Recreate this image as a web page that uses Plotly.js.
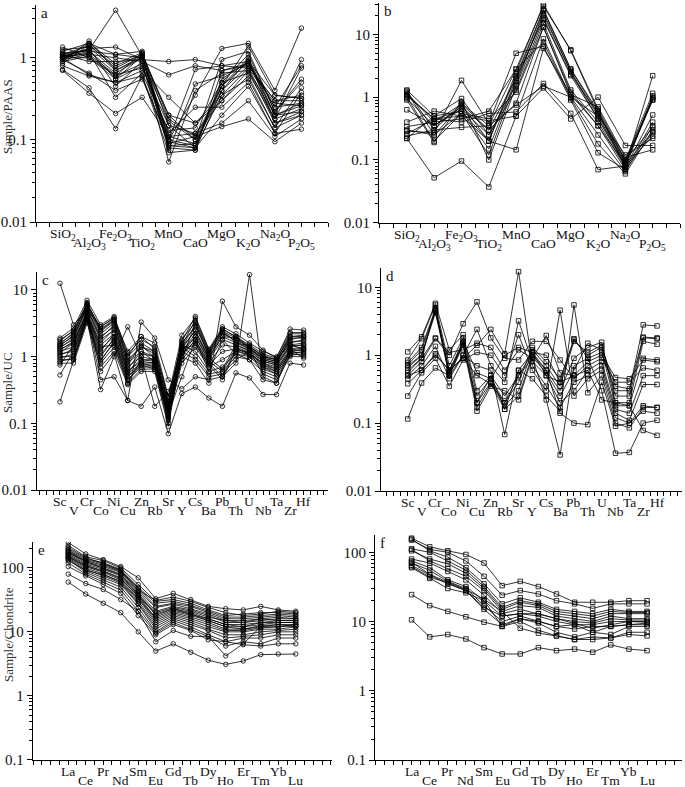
<!DOCTYPE html>
<html>
<head>
<meta charset="utf-8">
<script src="https://cdn.plot.ly/plotly-3.0.1.min.js"></script>
<style>body{margin:0;background:#fff}</style>
</head>
<body>
<div id="chart" style="width:685px;height:787px"></div>
<script>
// x categories
var oxides = ['SiO<sub>2</sub>','Al<sub>2</sub>O<sub>3</sub>','Fe<sub>2</sub>O<sub>3</sub>','TiO<sub>2</sub>','MnO','CaO','MgO','K<sub>2</sub>O','Na<sub>2</sub>O','P<sub>2</sub>O<sub>5</sub>'];
var traceEl = ['Sc','V','Cr','Co','Ni','Cu','Zn','Rb','Sr','Y','Cs','Ba','Pb','Th','U','Nb','Ta','Zr','Hf'];
var rees = ['La','Ce','Pr','Nd','Sm','Eu','Gd','Tb','Dy','Ho','Er','Tm','Yb','Lu'];

// a: major oxides / PAAS (circles)
var oxA = [
  [1.05,1.25,3.8,1.05,0.2,0.1,0.45,0.9,0.2,0.28],
  [1.0,1.3,1.35,0.95,0.9,0.95,0.8,0.9,0.35,0.32],
  [0.95,1.1,1.0,0.9,0.62,0.8,0.7,0.8,0.3,0.35],
  [1.35,1.0,0.6,1.15,0.15,0.08,0.35,0.75,0.18,0.24],
  [1.2,1.5,1.1,1.2,0.1,0.085,0.45,1.0,0.2,0.26],
  [1.1,1.4,0.8,1.1,0.085,0.09,0.5,1.1,0.22,0.5],
  [0.9,1.6,0.7,1.05,0.08,0.075,0.4,0.95,0.16,0.22],
  [0.8,0.6,0.5,0.7,0.33,0.16,0.3,0.6,0.14,0.2],
  [0.7,0.37,0.21,0.33,0.11,0.12,0.16,0.3,0.11,0.18],
  [0.72,0.43,0.137,0.6,0.09,0.11,0.145,0.18,0.095,0.16],
  [1.0,1.0,0.55,0.8,0.12,0.25,0.25,0.5,0.12,0.135],
  [1.15,1.2,0.65,1.0,0.075,0.48,0.6,0.85,0.25,0.8],
  [1.05,1.3,0.45,0.9,0.054,0.4,0.65,0.7,0.2,0.95],
  [0.95,0.65,0.4,0.55,0.1,0.35,1.3,1.5,0.4,2.3],
  [1.0,1.15,0.33,0.65,0.13,0.14,0.5,0.65,0.18,0.75],
  [1.1,0.9,0.9,0.95,0.17,0.1,0.95,1.2,0.22,0.55],
  [0.85,1.45,0.75,1.1,0.2,0.16,0.35,0.55,0.14,0.43],
  [1.0,1.2,1.1,1.0,0.095,0.08,0.2,0.45,0.12,0.38],
  [1.25,1.35,0.7,1.0,0.11,0.09,0.4,0.8,0.3,0.3],
  [0.9,1.05,0.6,0.85,0.085,0.08,0.55,0.9,0.25,0.28],
  [1.0,0.62,0.5,0.6,0.07,0.075,0.7,0.85,0.2,0.22],
  [1.05,1.1,0.62,0.75,0.15,0.12,0.3,0.7,0.16,0.2],
  [0.95,1.5,0.85,1.15,0.18,0.11,0.45,1.4,0.35,0.32],
  [1.1,1.25,0.55,1.05,0.1,0.72,0.8,0.75,0.28,0.26]
];

// b: major oxides / PAAS (squares)
var oxB = [
  [1.25,0.3,0.8,0.35,2.8,28,5.7,0.65,0.1,1.15],
  [1.2,0.25,0.75,0.2,2.5,30,5.5,0.6,0.095,1.0],
  [1.1,0.45,0.6,0.15,2.0,24,2.8,0.55,0.09,0.95],
  [1.0,0.2,0.55,0.12,1.8,20,2.6,0.5,0.085,0.9],
  [0.9,0.19,0.85,0.1,1.5,17,2.2,0.45,0.08,2.2],
  [1.3,0.5,0.95,0.25,1.3,15,1.3,0.4,0.075,0.52],
  [0.63,0.35,0.7,0.3,0.8,13,1.1,0.35,0.07,0.4],
  [0.4,0.6,0.5,0.42,0.5,8.5,1.0,0.25,0.065,0.35],
  [0.34,0.4,0.45,0.6,2.8,7.5,0.95,0.18,0.06,0.3],
  [0.29,0.27,1.85,0.38,5.0,6.5,0.9,0.13,0.07,0.27],
  [0.26,0.45,0.4,0.55,0.58,1.65,0.55,0.07,0.08,0.24],
  [0.24,0.3,0.33,0.35,0.75,1.5,1.0,0.5,0.12,0.22],
  [0.22,0.052,0.096,0.037,0.5,1.4,0.45,1.0,0.17,0.17],
  [0.22,0.5,0.6,0.2,0.145,6.0,1.1,0.7,0.11,0.145],
  [1.15,0.4,0.78,0.3,2.0,18,2.3,0.55,0.1,0.33],
  [0.95,0.35,0.65,0.25,1.6,22,2.5,0.45,0.09,0.9],
  [0.3,0.25,0.55,0.45,1.2,13,1.2,0.35,0.085,0.28],
  [1.05,0.45,0.5,0.2,2.2,25,2.8,0.6,0.075,1.05]
];

// c: trace elements / UC (circles)
var trC = [
  [12.6,3.0,5.0,2.8,3.8,1.2,2.0,1.6,0.25,1.5,3.5,1.2,2.6,2.0,1.5,1.1,0.95,2.6,2.5],
  [1.9,2.7,7.0,3.0,4.0,1.1,1.8,1.4,0.22,1.7,4.0,1.3,2.8,2.2,1.6,1.2,1.0,2.3,2.3],
  [1.8,2.4,6.5,2.5,3.5,1.0,1.6,1.2,0.2,1.4,3.0,1.1,2.4,1.9,1.4,1.0,0.9,2.0,2.1],
  [1.6,2.2,6.0,2.2,3.2,0.9,1.4,1.1,0.18,1.3,2.5,1.0,2.2,1.8,1.35,0.95,0.85,1.8,2.0],
  [1.5,2.0,5.5,2.0,2.8,0.8,1.2,1.0,0.16,1.2,2.2,0.95,2.0,1.6,1.3,0.9,0.8,1.6,1.8],
  [1.4,1.8,5.0,1.8,2.5,0.7,1.0,0.9,0.15,1.1,2.0,0.9,1.8,1.5,1.2,0.85,0.75,1.5,1.6],
  [1.3,1.6,4.5,1.5,2.2,0.6,0.9,0.85,0.14,1.0,1.8,0.8,1.5,1.4,1.15,0.8,0.7,1.4,1.5],
  [1.2,1.4,4.2,1.3,2.0,0.55,0.8,0.8,0.13,0.9,1.6,0.75,1.2,1.3,1.1,0.75,0.65,1.3,1.4],
  [1.1,1.2,4.0,1.1,1.8,0.5,0.75,0.75,0.12,0.8,1.4,0.7,0.9,1.2,1.05,0.7,0.6,1.2,1.3],
  [1.0,1.0,3.8,0.9,1.6,0.45,0.7,0.7,0.11,1.5,1.2,0.6,0.7,1.1,1.0,0.65,0.55,1.1,1.2],
  [0.9,0.9,3.5,0.8,1.4,0.4,0.65,0.65,0.1,1.4,1.0,0.55,0.6,1.0,0.9,0.6,0.5,1.05,1.1],
  [0.8,0.8,3.2,0.7,1.2,0.38,0.6,0.6,0.09,1.2,0.9,0.5,0.55,0.9,1.2,0.55,0.45,1.0,1.0],
  [0.75,1.5,4.8,0.6,1.1,0.22,0.18,0.35,0.07,0.28,0.35,0.24,0.18,0.57,0.48,0.27,0.27,0.8,0.75],
  [0.53,1.2,4.0,0.45,0.5,0.22,3.3,1.9,0.45,0.33,0.5,0.45,0.5,0.8,17,0.5,0.4,1.3,0.95],
  [0.21,0.9,3.6,0.32,1.0,2.8,1.0,0.18,0.3,1.0,0.8,0.4,6.8,2.8,2.1,1.25,0.95,1.5,1.3],
  [1.7,2.5,6.0,2.8,3.8,1.0,2.0,1.3,0.25,2.1,3.8,1.25,2.6,2.0,1.4,1.05,0.9,2.2,2.2],
  [1.45,2.1,5.2,1.9,3.0,0.75,1.5,0.95,0.19,1.6,2.8,1.1,2.3,1.7,1.3,0.95,0.85,1.7,1.7],
  [1.25,1.7,4.6,1.6,2.6,0.65,1.2,0.85,0.17,1.4,2.4,0.95,0.65,1.5,1.25,0.85,0.75,1.45,1.5],
  [1.05,1.3,4.3,1.2,2.2,0.6,0.85,0.8,0.15,1.2,2.0,0.85,0.6,1.35,1.1,0.8,0.65,1.25,1.35],
  [0.95,1.1,3.9,1.0,1.9,0.5,0.8,0.7,0.13,1.1,1.7,0.8,0.5,1.3,1.15,0.75,0.6,1.2,1.25],
  [0.85,0.95,3.6,0.85,1.7,0.45,0.75,0.65,0.12,1.3,1.5,0.75,0.45,1.25,1.05,0.7,0.55,1.15,1.15],
  [1.35,1.9,5.8,2.4,3.4,0.55,1.1,1.0,0.16,0.9,3.2,1.0,2.0,1.9,1.35,0.9,0.8,1.9,1.9],
  [1.15,1.6,4.4,1.4,1.5,0.4,0.9,0.9,0.14,0.5,1.8,0.6,1.8,1.1,0.9,0.45,0.4,1.1,1.05],
  [1.55,2.3,6.2,2.6,3.6,0.85,1.4,1.2,0.2,1.8,3.3,1.15,2.5,1.6,1.45,1.0,0.9,2.0,2.0]
];

// d: trace elements / UC (squares)
var trD = [
  [1.12,1.87,5.8,1.2,2.0,0.3,0.5,0.25,0.5,1.1,1.0,0.4,1.75,0.9,1.1,0.3,0.3,2.8,2.7],
  [0.85,1.75,5.5,0.7,1.8,0.25,0.45,0.2,0.4,1.3,0.8,0.45,1.7,1.0,1.3,0.35,0.32,1.85,1.8],
  [0.78,1.3,4.8,0.6,1.6,0.2,0.4,0.18,0.3,1.2,0.7,0.35,1.6,1.1,1.4,0.25,0.25,1.8,1.75],
  [0.72,1.2,4.5,0.55,1.5,0.17,0.38,0.16,0.25,1.0,0.6,0.3,0.9,1.3,1.55,0.2,0.2,1.6,1.45],
  [0.65,1.0,4.2,0.5,1.4,0.15,0.35,0.3,0.22,0.95,0.55,0.25,0.6,1.5,1.2,0.18,0.18,0.9,0.85],
  [0.55,0.9,1.8,1.1,1.2,1.5,1.3,0.6,1.2,0.9,1.95,0.55,0.5,0.8,1.0,0.47,0.45,0.85,0.8],
  [0.5,0.8,1.75,1.0,2.9,6.1,1.8,0.9,0.85,1.6,1.6,0.85,0.45,0.7,0.9,0.4,0.4,0.65,0.6],
  [0.45,0.7,1.35,0.45,1.0,2.4,0.7,0.4,3.2,0.8,0.5,0.2,0.3,0.6,0.8,0.16,0.14,0.5,0.5],
  [0.38,0.6,1.05,0.6,0.9,1.4,2.4,1.05,17,0.7,0.35,0.17,0.4,0.5,0.7,0.14,0.11,0.37,0.37],
  [0.25,0.55,0.9,0.35,0.85,1.1,1.0,0.5,2.0,0.6,0.3,4.6,0.25,0.45,0.6,0.12,0.1,0.18,0.17],
  [0.115,0.39,0.65,0.5,1.0,0.7,0.6,0.068,0.6,0.45,0.25,0.15,5.5,0.28,0.5,0.1,0.085,0.17,0.17],
  [0.7,1.0,4.6,0.55,1.6,0.55,0.45,1.0,1.3,1.1,0.6,0.14,0.1,0.095,0.4,0.09,0.1,0.15,0.14],
  [0.5,0.6,1.0,0.6,0.9,0.5,0.38,0.2,0.5,0.9,0.22,0.034,0.7,0.9,0.3,0.036,0.037,0.1,0.11],
  [0.6,0.9,5.0,0.5,1.5,0.2,0.5,0.16,0.6,1.1,0.5,0.4,0.5,0.6,0.22,0.2,0.18,0.078,0.066]
];

// e: REE / chondrite (circles)
var reeE = [
  [250,165,135,105,70,33,40,32,25,23,22,25,22,21],
  [225,150,130,100,55,30,32,28,22,18,19,20,20,19],
  [200,140,120,95,50,28,30,26,21,17,17,18,19,18],
  [190,135,115,90,48,25,28,25,20,16,16,17,18,17],
  [180,125,105,85,42,21,25,22,18,14,14,15,16,16],
  [175,120,100,80,40,18,23,20,16,13,13,14,15,15],
  [165,115,95,75,37,16,21,18,15,12,12,13,14,14],
  [160,110,90,70,35,15,20,17,14,11,11,12,13,13],
  [155,105,85,65,33,14,19,16,13,10.5,10.5,11.5,12,12.5],
  [150,100,80,60,30,13,18,15,12,10,10,11,11,12],
  [145,95,75,58,28,12,17,14,11,9,9,10,10.5,11],
  [140,90,70,55,27,11,16,13,10.5,8,8.5,9,10,10],
  [135,85,65,50,24,10,15,12,9,7,8,8,9,9],
  [120,80,60,45,21,9.5,14,11,8.5,6,7,6.5,8,8],
  [105,75,55,40,18,9,13,10.5,7.5,7,6.3,6,6.5,6.5],
  [80,57,46,32,21,7,10.5,8.5,8.5,4.2,6.5,12,12,13],
  [60,39,28,20,10,5,6.5,4.8,3.6,3.1,3.5,4.4,4.5,4.5],
  [170,130,110,88,45,31,35,30,24,20,18,19,21,20],
  [185,128,98,78,38,20,24,21,17,15,15,16,17,16],
  [130,92,78,62,32,17,22,19,16,13,12,14,14,14],
  [210,145,118,92,44,24,27,23,19,15,14,16,15,15],
  [148,108,88,68,36,19,23,19,15,12,11,12.5,13,12]
];

// f: REE / chondrite (squares)
var reeF = [
  [160,120,105,93,70,33,38,32,25,19,19,19,20,20],
  [150,110,100,75,45,24,28,25,20,18,15.5,18,18,18],
  [155,105,85,60,35,18,22,19,15,14,13,15,14,14],
  [112,100,75,55,32,16,20,18,14,13,12,14,13.5,13.5],
  [105,80,68,50,30,15,19,17,13,12,11,13,13,13],
  [110,75,58,45,28,14,17,16,12,11,10,12,11,11],
  [80,70,53,40,24,13,15,13,11,10,9.5,11,10.5,10.5],
  [75,60,40,32,20,12,13,12,10,9,9,10,10,10],
  [70,55,38,30,17,10,12,10,8.5,7.8,8.5,8.5,9,9],
  [65,47,35,28,15,9,11,9.5,7,6,7,6.5,8.5,8.5],
  [60,42,30,26,20,8.5,10,7.5,6.2,5.5,6,5.8,7,7],
  [72,48,37,29,21,14,8,6.8,6.2,5.5,5.5,5.8,6.5,6.2],
  [24.5,17,14,11.7,9.8,8.5,11,10,8.5,9,7,8.5,9,9.5],
  [10.6,6,6.5,5.6,4.2,3.4,3.4,4.2,3.8,4.0,3.6,4.6,4.0,3.8],
  [62,44,36,28,16,12,13,13,11,9.5,8,9,10,9.8]
];

var serif = '"Liberation Serif", "Times New Roman", serif';
var data = [];
var annotations = [];
var layout = {
  width: 685, height: 787,
  margin: {l: 0, r: 0, t: 0, b: 0},
  paper_bgcolor: '#fff', plot_bgcolor: '#fff',
  showlegend: false,
  font: {family: serif, size: 15, color: '#111'}
};

// panel geometry in pixels: left, right, top, bottom, x range, log y range
var panels = [
  {rows: oxA,  cats: oxides,  sym: 'circle-open', letter: 'a', px: [36, 328, 5, 222],     xr: [-1, 10],       yr: [-2, 0.643]},
  {rows: oxB,  cats: oxides,  sym: 'square-open', letter: 'b', px: [379, 680, 3, 222.7],  xr: [-1.02, 10],    yr: [-2, 1.5]},
  {rows: trC,  cats: traceEl, sym: 'circle-open', letter: 'c', px: [36.7, 328, 271.7, 490], xr: [-1.72, 19.8], yr: [-2, 1.274]},
  {rows: trD,  cats: traceEl, sym: 'square-open', letter: 'd', px: [381, 682, 268.3, 491], xr: [-1.93, 19.8],  yr: [-2, 1.28]},
  {rows: reeE, cats: rees,    sym: 'circle-open', letter: 'e', px: [32.7, 332, 541.7, 759.7], xr: [-2.03, 15.07], yr: [-1, 2.41]},
  {rows: reeF, cats: rees,    sym: 'square-open', letter: 'f', px: [375, 682, 535, 760],  xr: [-2.02, 14.93], yr: [-1, 2.25]}
];

panels.forEach(function (p, k) {
  var n = k === 0 ? '' : String(k + 1);
  var idx = p.cats.map(function (c, i) { return i; });
  p.rows.forEach(function (r) {
    data.push({
      x: idx, y: r, xaxis: 'x' + n, yaxis: 'y' + n,
      type: 'scatter', mode: 'lines+markers', hoverinfo: 'skip',
      line: {color: '#000', width: 0.8},
      marker: {symbol: p.sym, size: 4.5, color: '#000', line: {width: 0.8}}
    });
  });
  layout['xaxis' + n] = {
    domain: [p.px[0] / 685, p.px[1] / 685], range: p.xr,
    anchor: 'y' + n, showgrid: false, zeroline: false,
    showline: true, linecolor: '#000', linewidth: 1,
    ticks: 'outside', ticklen: 4, tickcolor: '#000', tickwidth: 1,
    tick0: 0, dtick: 0.5, showticklabels: false
  };
  layout['yaxis' + n] = {
    domain: [1 - p.px[3] / 787, 1 - p.px[2] / 787], type: 'log', range: p.yr,
    anchor: 'x' + n, showgrid: false, zeroline: false,
    showline: true, linecolor: '#000', linewidth: 1,
    ticks: 'outside', ticklen: 5, tickcolor: '#000', dtick: 1,
    minor: {ticks: 'outside', ticklen: 3, tickcolor: '#000', dtick: 'D1', showgrid: false},
    tickfont: {family: serif, size: 15, color: '#111'}
  };
  // staggered category labels under the x axis
  p.cats.forEach(function (c, i) {
    annotations.push({
      xref: 'x' + n, yref: 'y' + n + ' domain', x: i, y: 0,
      xanchor: 'center', yanchor: 'top', yshift: i % 2 ? -11 : -2, showarrow: false,
      text: c, font: {family: serif, size: 13.5, color: '#111'}
    });
  });
  annotations.push({
    xref: 'x' + n + ' domain', yref: 'y' + n + ' domain', x: 0, y: 1,
    xanchor: 'left', yanchor: 'top', xshift: 3, yshift: 2, showarrow: false,
    text: p.letter, font: {family: serif, size: 15, color: '#111'}
  });
});

// y axis titles
[['Sample/PAAS', 117], ['Sample/UC', 383], ['Sample/Chondrite', 635]].forEach(function (t) {
  annotations.push({
    xref: 'paper', yref: 'paper', x: 8 / 685, y: 1 - t[1] / 787,
    xanchor: 'center', yanchor: 'middle',
    textangle: -90, showarrow: false, text: t[0],
    font: {family: serif, size: 13, color: '#333'}
  });
});

layout.annotations = annotations;
Plotly.newPlot('chart', data, layout, {staticPlot: true});
</script>
</body>
</html>
